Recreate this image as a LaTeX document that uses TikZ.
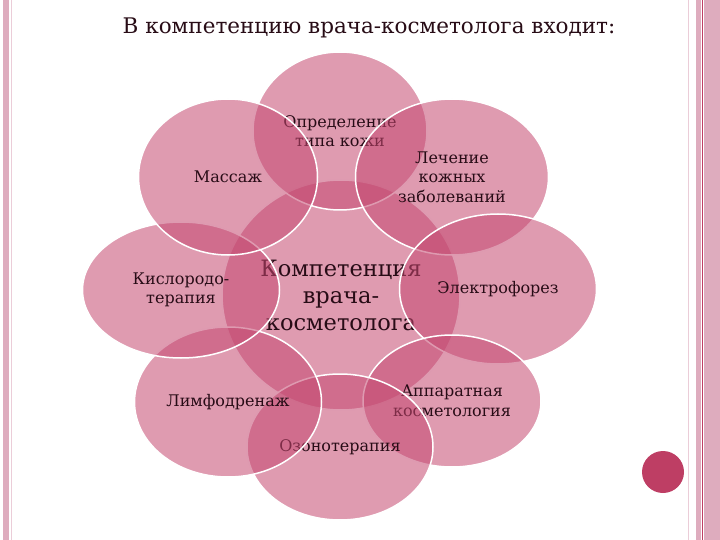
\documentclass[tikz,border=0pt]{standalone}
\usepackage{fontspec}
\setmainfont{DejaVu Serif}
\usetikzlibrary{shapes.geometric}
\definecolor{petal}{RGB}{196,72,112}
\definecolor{ink}{RGB}{40,12,22}
\definecolor{stripe}{RGB}{222,172,190}
\definecolor{dotred}{RGB}{190,62,100}
\tikzset{
  petal/.style={ellipse, draw=white, line width=1.5pt, fill=petal,
    fill opacity=0.55, text opacity=1, text=ink, inner sep=0pt,
    align=center, font=\fontsize{16}{19.5}\selectfont}
}
\begin{document}
\begin{tikzpicture}[x=1pt,y=-1pt]
    \useasboundingbox (0,0) rectangle (720,540);
    % side stripes
    \fill[stripe] (3,0) rectangle (9,540);
    \fill[stripe!60] (11,0) rectangle (12,540);
    \fill[stripe!60] (688,0) rectangle (689,540);
    \fill[stripe] (696,0) rectangle (701,540);
    \fill[dotred] (702,0) rectangle (703,540);
    \fill[stripe] (704,0) rectangle (720,540);
    \node[text=ink, font=\fontsize{21.5}{25}\selectfont] (title) at (369,28) {В компетенцию врача-косметолога входит:};
    \node[petal, minimum width=238pt, minimum height=230pt,
      font=\fontsize{22.5}{27}\selectfont] (core) at (341,295) {Компетенция\\врача-\\косметолога};
    \foreach \name/\x/\y/\w/\h/\txt in {
      opred/340/131/174/158/Определение\\типа кожи,
      lech/452/177/193/156/Лечение\\кожных\\заболеваний,
      elektro/498/289/197/150/Электрофорез,
      apparat/452/401/178/132/Аппаратная\\косметология,
      ozon/340/447/186/146/Озонотерапия,
      limfo/228/402/187/150/Лимфодренаж,
      kislorod/181/290/197/136/Кислородо-\\терапия,
      massazh/228/177/179/156/Массаж}
    {\node[petal, minimum width=\w*1pt, minimum height=\h*1pt] (\name) at (\x,\y) {\txt};}
    \node[circle, fill=dotred, minimum size=42pt, inner sep=0pt] (dot) at (663,472) {};
\end{tikzpicture}
\end{document}
